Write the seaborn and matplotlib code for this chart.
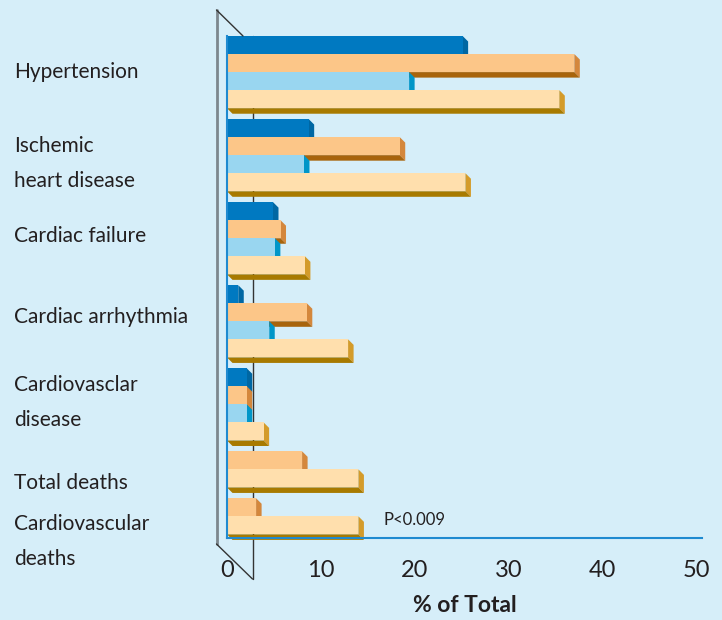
import numpy as np
import pandas as pd
import matplotlib
matplotlib.use("Agg")
import matplotlib.pyplot as plt
from matplotlib.lines import Line2D
from matplotlib.patches import Polygon
from matplotlib.colors import to_hex
from matplotlib.transforms import IdentityTransform, blended_transform_factory
import seaborn as sns

# data (% of total), nan = no bar
categories = ["Hypertension", "Ischemic\nheart disease", "Cardiac failure",
              "Cardiac arrhythmia", "Cardiovasclar\ndisease", "Total deaths",
              "Cardiovascular\ndeaths"]
series = ["Series 1", "Series 2", "Series 3", "Series 4"]
s1 = [25.1, 8.7, 4.9, 1.2, 2.1, np.nan, np.nan]
s2 = [37.0, 18.4, 5.7, 8.5, 2.1, 8.0, 3.1]
s3 = [19.4, 8.2, 5.1, 4.5, 2.1, np.nan, np.nan]
s4 = [35.4, 25.4, 8.3, 12.9, 3.9, 14.0, 14.0]
xticks = [0, 10, 20, 30, 40, 50]

colors = ["#0079C1", "#FCC688", "#99D6F0", "#FFDFAD"]
side_colors = ["#0067A3", "#D4873C", "#0096C8", "#D49B2A"]
bottom_colors = ["#005A8C", "#A8640C", "#0080B0", "#A87A00"]
bg = "#D6EEF9"

# one row per bar, groups stacked top to bottom with a small gap
group_gap = 0.6
rows = []
centers = []
start = 0.0
for i, cat in enumerate(categories):
    vals = [s1[i], s2[i], s3[i], s4[i]]
    k = 0
    for s, v in zip(series, vals):
        if not np.isnan(v):
            rows.append({"category": cat, "series": s, "value": v, "pos": start + k})
            k += 1
    centers.append(start + (k - 1) / 2)
    start += k + group_gap
df = pd.DataFrame(rows)

label_shift = [0, 0.45, -0.1, -0.25, -0.1, 0.75, 1.4]

sns.set_style("white")
plt.rcParams["font.family"] = ["Lato", "DejaVu Sans"]

fig = plt.figure(figsize=(7.22, 6.2), dpi=100, facecolor=bg)
W, H = 722, 620
ax = fig.add_axes([227 / W, (H - 538) / H, (702 - 227) / W, 502 / H])
ax.set_facecolor(bg)

sns.barplot(data=df, x="value", y="pos", hue="series", hue_order=series,
            palette=dict(zip(series, colors)), orient="y", native_scale=True,
            dodge=False, width=1, saturation=1, errorbar=None, legend=False,
            linewidth=0, ax=ax)

ax.set_xlim(0, 50.6)
ax.set_ylim(27.3, -0.5)

# pseudo-3D depth on each bar
d = 5.5
shade = {to_hex(c): (sc, bc) for c, sc, bc in zip(colors, side_colors, bottom_colors)}
for bar in list(ax.patches):
    sc, bc = shade[to_hex(bar.get_facecolor())]
    x0, y0 = bar.get_x(), bar.get_y()
    x1, y1 = x0 + bar.get_width(), y0 + bar.get_height()
    (px0, ptop), (px1, pbot) = ax.transData.transform([(x0, y0), (x1, y1)])
    z = 3 + (y0 + 0.5) * 0.01
    bar.set_zorder(z)
    right = Polygon([(px1, ptop), (px1 + d, ptop - d), (px1 + d, pbot - d), (px1, pbot)],
                    closed=True, facecolor=sc, edgecolor="none",
                    transform=IdentityTransform(), zorder=z - 0.005, clip_on=False)
    bottom = Polygon([(px0, pbot), (px1, pbot), (px1 + d, pbot - d), (px0 + d, pbot - d)],
                     closed=True, facecolor=bc, edgecolor="none",
                     transform=IdentityTransform(), zorder=z - 0.005, clip_on=False)
    ax.add_patch(right)
    ax.add_patch(bottom)

# the 3D wall on the left
def fpx(x, y):
    return x / W, 1 - y / H

ax.add_line(Line2D(*zip(fpx(252.5, 36), fpx(252.5, 579)), color="#333333", lw=1,
                   transform=fig.transFigure, clip_on=False, zorder=1))
fig.add_artist(Line2D(*zip(fpx(216.5, 10), fpx(216.5, 544)), color="#7D878E", lw=2))
fig.add_artist(Line2D(*zip(fpx(216.5, 10), fpx(243, 36)), color="#333333", lw=1))
fig.add_artist(Line2D(*zip(fpx(216.5, 544), fpx(252.5, 579)), color="#333333", lw=1))

for sp in ["top", "right"]:
    ax.spines[sp].set_visible(False)
for sp in ["left", "bottom"]:
    ax.spines[sp].set_color("#1F8AD0")
    ax.spines[sp].set_linewidth(1.5)
    ax.spines[sp].set_zorder(10)

ax.set_xticks(xticks)
ax.set_xticklabels([str(t) for t in xticks])
ax.tick_params(axis="x", direction="out", length=10, width=1.3, color="#5AAAE0",
               pad=6, labelsize=17, labelcolor="#231F20")
ax.xaxis.get_major_ticks()[0].tick1line.set_visible(False)
ax.set_yticks([])
ax.set_ylabel("")
ax.set_xlabel("% of Total", fontsize=16.5, fontweight="bold", color="#231F20", labelpad=10)

trans = blended_transform_factory(fig.transFigure, ax.transData)
for cat, c, sh in zip(categories, centers, label_shift):
    ax.text(14 / W, c + sh, cat, transform=trans, ha="left", va="center",
            fontsize=15, color="#231F20", linespacing=1.95, clip_on=False)

ax.text(16.7, 26.3, "P<0.009", ha="left", va="center", fontsize=12, color="#231F20")

fig.savefig("out.png", dpi=100, facecolor=bg)
